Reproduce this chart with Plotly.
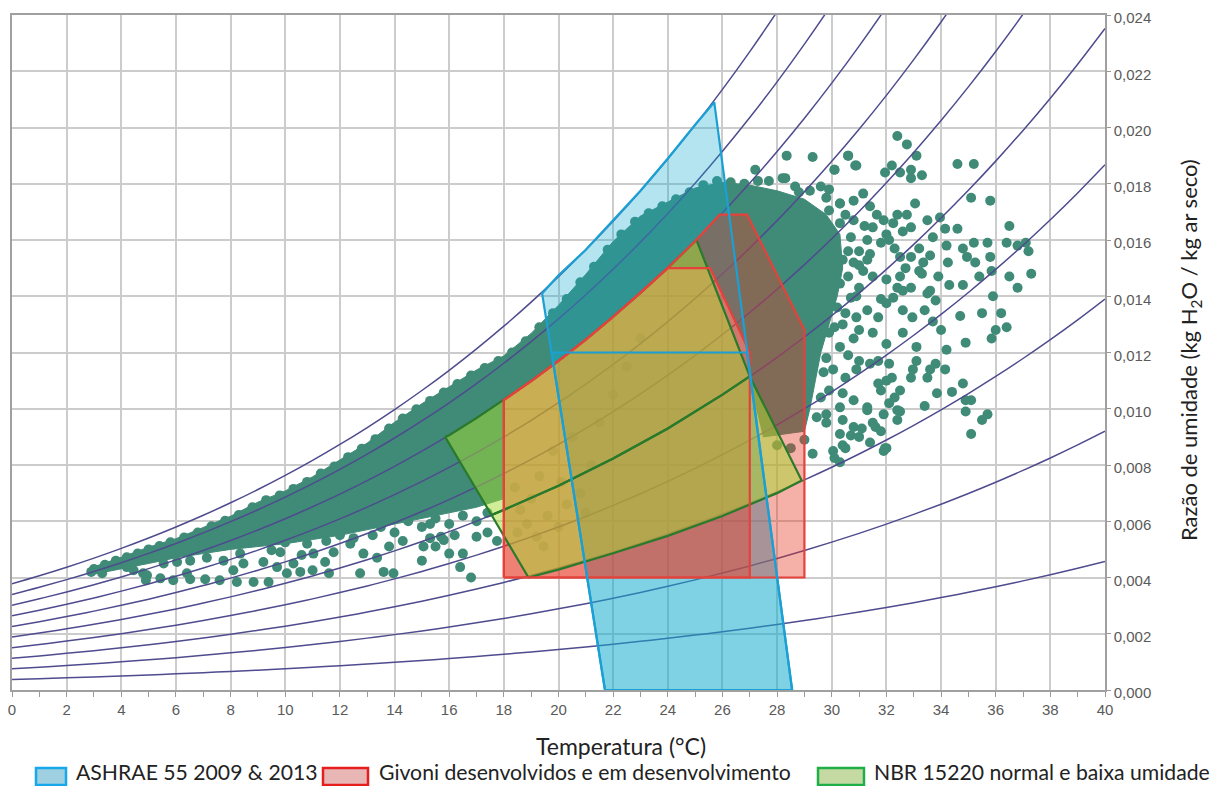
import plotly.graph_objects as go

# ---------------- data ----------------
# saturation vapour pressure of water (kPa) at 0..40 °C (psychrometric table)
PSAT_T = list(range(0, 41))
PSAT_KPA = [0.6113, 0.6571, 0.7060, 0.7580, 0.8135, 0.8725, 0.9353, 1.0020, 1.0729, 1.1481,
            1.2280, 1.3128, 1.4026, 1.4979, 1.5987, 1.7055, 1.8185, 1.9380, 2.0643, 2.1978,
            2.3389, 2.4878, 2.6448, 2.8105, 2.9852, 3.1693, 3.3633, 3.5674, 3.7823, 4.0084,
            4.2462, 4.4961, 4.7586, 5.0345, 5.3242, 5.6280, 5.9468, 6.2812, 6.6315, 6.9988, 7.3838]
RH_LEVELS = [10, 20, 30, 40, 50, 60, 70, 80, 90, 100]
P_ATM = 101.325

# comfort zones (T in °C, humidity ratio in g/kg)
ASHRAE_2009_T = [21.7, 28.55, 26.9, 19.75]
ASHRAE_2009_W = [0.0, 0.0, 12.0, 12.0]
ASHRAE_2013_T = [21.7, 28.55, 25.7, 25.0, 24.0, 23.0, 22.0, 21.0, 20.0, 19.4]
ASHRAE_2013_W = [0.0, 0.0, 20.9, 20.1, 18.9, 17.75, 16.7, 15.65, 14.75, 14.1]

GIVONI_OUT_T = [18, 29, 29, 26.9, 25.9, 25, 24, 23, 22, 21, 20, 19, 18]
GIVONI_OUT_W = [4.0, 4.0, 12.8, 16.9, 16.9, 15.96, 15.01, 14.12, 13.27, 12.46, 11.70, 10.98, 10.31]
GIVONI_IN_T = [18, 27, 27, 25.55, 24.0, 23, 22, 21, 20, 19, 18]
GIVONI_IN_W = [4.0, 4.0, 12.0, 15.0, 15.0, 14.12, 13.27, 12.46, 11.70, 10.98, 10.31]

NBR_NORMAL_T = [15.85, 16, 17, 18, 19, 20, 21, 22, 23, 24, 25, 25.05, 27.0, 26, 24, 22, 20, 18, 17.55]
NBR_NORMAL_W = [9.0, 9.06, 9.67, 10.31, 10.98, 11.70, 12.46, 13.27, 14.12, 15.01, 15.96, 16.0,
                11.15, 10.50, 9.30, 8.23, 7.26, 6.40, 6.22]
NBR_LOW_T = [17.55, 18, 20, 22, 24, 26, 27.0, 28.9, 28, 26, 24, 22, 20, 18.9]
NBR_LOW_W = [6.22, 6.40, 7.26, 8.23, 9.30, 10.50, 11.15, 7.45, 7.0, 6.19, 5.48, 4.86, 4.28, 4.0]

# envelope of the densely overlapping measured points (g/kg)
DENSE_UP_T = [2.8, 3, 4, 5, 6, 7, 8, 9, 10, 11, 12, 13, 14, 15, 16, 17, 18, 19, 20, 21, 22, 23,
              24, 25, 26, 27, 28, 29, 29.8, 30.3]
DENSE_UP_W = [4.3, 4.38, 4.72, 5.08, 5.38, 5.78, 6.18, 6.68, 7.08, 7.58, 8.18, 8.78, 9.52, 10.18,
              10.78, 11.38, 11.88, 12.68, 13.68, 14.78, 15.95, 16.85, 17.35, 17.85, 18.05, 17.95,
              17.75, 17.45, 16.9, 16.2]
DENSE_LO_T = [30.4, 30.2, 29.9, 29.6, 29.4, 29.2, 29.0, 27.5, 27.0, 27.0, 25.55, 24.0, 23, 22, 21,
              20, 19, 18, 18, 17, 16, 15, 14, 13, 12, 11, 10, 9, 8, 7, 6, 5, 4, 2.9]
DENSE_LO_W = [15.0, 14.0, 13.0, 12.0, 11.0, 10.0, 9.2, 9.0, 11.0, 12.0, 15.0, 15.0, 14.1, 13.3,
              12.5, 11.7, 11.0, 10.3, 6.8, 6.5, 6.3, 6.1, 5.9, 5.7, 5.5, 5.35, 5.2, 5.1, 5.0, 4.85,
              4.7, 4.5, 4.3, 4.1]

# individual measured points (T °C, w g/kg)
BAND_EDGE_PTS = [(3.0, 4.3), (3.4, 4.45), (3.8, 4.6), (4.2, 4.72), (4.6, 4.85), (5.0, 5.0), (5.4, 5.12),
                 (5.8, 5.25), (6.3, 5.42), (6.8, 5.6), (7.3, 5.82), (7.8, 6.02), (8.3, 6.22), (8.8, 6.5),
                 (9.3, 6.75), (9.8, 6.92), (10.3, 7.15), (10.8, 7.4), (11.3, 7.7), (11.8, 7.95),
                 (12.3, 8.28), (12.8, 8.58), (13.3, 8.92), (13.8, 9.3), (14.3, 9.65), (14.8, 9.98),
                 (15.3, 10.28), (15.8, 10.58), (16.3, 10.88), (16.8, 11.18), (17.3, 11.45), (17.8, 11.7),
                 (18.3, 12.0), (18.8, 12.4), (19.3, 12.9), (19.8, 13.4), (20.3, 13.9), (20.8, 14.5),
                 (21.3, 15.05), (21.8, 15.65), (22.3, 16.2), (22.8, 16.65), (23.3, 16.95), (23.8, 17.2),
                 (24.3, 17.45), (24.8, 17.7), (25.3, 17.95), (25.8, 18.1), (26.3, 18.05), (26.8, 18.0),
                 (27.3, 18.1), (27.7, 18.1), (28.3, 18.2), (28.8, 17.7), (29.3, 18.95), (29.2, 17.75),
                 (29.6, 17.9), (29.9, 17.8), (30.3, 17.3), (30.1, 18.5), (30.6, 19.0), (30.86, 18.65),
                 (28.35, 19.0), (27.2, 18.5), (28.2, 18.2), (28.66, 17.9)]
BAND_LOW_PTS = [(2.9, 4.2), (3.3, 4.15), (4.2, 4.37), (4.45, 4.26), (4.8, 4.15), (4.94, 4.08), (4.9, 3.9),
                (5.43, 3.97), (5.55, 4.5), (5.9, 3.9), (6.04, 4.55), (6.4, 4.15), (6.52, 3.94), (6.52, 4.6),
                (7.07, 3.94), (7.13, 4.7), (7.6, 3.9), (7.74, 4.6), (8.1, 4.26), (8.23, 3.84), (8.35, 4.85),
                (8.47, 4.5), (8.84, 3.84), (9.2, 4.55), (9.39, 3.84), (9.5, 4.97), (9.7, 4.37), (9.82, 4.9),
                (10.06, 4.15), (10.3, 4.5), (10.55, 4.2), (10.6, 4.8), (11.0, 4.26), (11.03, 4.85),
                (11.46, 4.55), (11.6, 4.15), (11.77, 4.9), (12.38, 5.2), (12.74, 4.15), (12.86, 4.85),
                (13.36, 4.7), (13.6, 4.2), (13.96, 4.15), (15.0, 4.6), (15.06, 5.1), (15.8, 5.33),
                (14.5, 6.0), (15.0, 5.8), (15.5, 6.1), (16.0, 5.9), (16.5, 6.2), (17.0, 6.0), (17.4, 6.3),
                (14.0, 5.6), (13.2, 5.5), (12.5, 5.4), (16.2, 5.5), (15.3, 5.4), (17.0, 5.45), (17.4, 5.6),
                (17.75, 5.3), (16.5, 4.85), (16.4, 4.37), (16.8, 4.0), (15.7, 5.45), (16.0, 4.85),
                (15.5, 5.1), (15.3, 5.9), (14.3, 5.3), (13.8, 5.1), (11.5, 5.3), (10.8, 5.2), (10.0, 5.25),
                (12.0, 5.5), (13.5, 5.8)]
UNDER_ZONE_PTS = [(18.5, 5.6), (18.85, 5.9), (19.2, 5.45), (19.45, 5.1), (18.6, 6.4), (19.0, 6.8),
                  (19.6, 6.2), (20.0, 5.8), (20.3, 6.6), (18.4, 7.2), (19.3, 7.6), (20.1, 7.4), (20.8, 7.0),
                  (21.2, 8.0), (21.0, 6.3), (19.8, 8.5), (20.5, 9.0), (21.5, 9.5), (22.0, 10.5),
                  (22.5, 11.5), (23.0, 12.5)]
CLOUD_PTS = [(32.4, 19.7), (32.75, 19.4), (33.1, 19.0), (30.6, 19.0), (30.9, 18.65), (30.1, 18.5),
             (32.2, 18.65), (31.95, 18.4), (32.5, 18.4), (32.9, 18.5), (33.3, 18.3), (32.9, 18.2),
             (34.6, 18.7), (35.2, 18.7), (35.1, 17.5), (35.8, 17.4), (33.05, 17.3), (36.5, 16.5),
             (37.2, 15.6), (37.1, 15.9), (36.8, 15.8), (36.4, 15.9), (36.5, 14.7), (36.8, 14.3),
             (37.3, 14.8), (35.7, 15.9), (35.2, 15.9), (34.8, 15.7), (34.95, 15.4), (35.25, 15.2),
             (35.8, 15.4), (35.85, 14.9), (35.4, 14.7), (34.8, 14.4), (34.3, 14.4), (33.9, 14.7),
             (34.6, 16.4), (33.96, 16.8), (33.5, 16.7), (33.7, 16.1), (34.15, 16.4), (34.2, 15.8),
             (34.25, 15.2), (35.9, 14.0), (34.7, 13.3), (35.5, 13.4), (36.2, 13.4), (36.4, 12.9),
             (36.0, 12.8), (35.85, 12.5), (34.9, 12.35), (34.0, 12.8), (33.7, 13.1), (33.4, 13.5),
             (32.95, 13.25), (32.6, 13.5), (32.6, 12.7), (33.1, 12.2), (34.2, 12.1), (34.15, 11.4),
             (33.6, 11.4), (33.8, 11.6), (33.1, 11.7), (32.9, 11.1), (32.2, 11.1), (32.1, 11.6),
             (33.85, 10.55), (34.4, 10.6), (34.8, 10.9), (34.9, 10.3), (35.1, 10.3), (34.9, 9.9),
             (35.7, 9.8), (35.5, 9.6), (35.1, 9.1), (33.4, 10.1), (32.5, 10.65), (32.3, 10.4),
             (32.4, 9.95), (31.8, 10.65), (31.7, 10.9), (31.9, 9.8), (31.8, 9.2), (32.4, 9.6),
             (31.4, 8.8), (32.0, 8.6), (31.5, 9.5), (31.3, 10.05), (30.9, 11.4), (31.0, 11.7),
             (31.4, 11.6), (31.7, 11.7), (30.4, 13.0), (31.0, 12.8), (31.5, 12.7), (32.0, 12.3),
             (31.7, 13.25), (32.0, 13.75), (31.8, 13.9), (32.6, 14.2), (32.5, 14.7), (32.9, 14.3),
             (33.3, 14.8), (33.6, 14.2), (33.8, 13.85), (33.5, 14.1), (32.9, 15.4), (32.5, 15.4),
             (32.3, 15.7), (32.7, 15.0), (33.2, 14.9), (33.2, 15.7), (33.6, 15.45), (33.35, 15.2),
             (32.4, 16.9), (32.75, 16.9), (32.25, 16.6), (32.9, 16.45), (32.6, 16.3), (31.9, 16.7),
             (32.0, 16.2), (32.1, 16.0), (31.15, 17.65), (30.8, 17.4), (31.4, 17.2), (31.65, 16.9),
             (31.5, 16.45), (31.3, 16.0), (31.8, 15.9), (31.4, 15.5), (31.0, 15.6), (30.7, 16.1),
             (30.3, 16.6), (29.9, 17.05), (29.8, 17.5), (30.3, 17.3), (30.5, 16.9), (30.05, 15.9),
             (30.4, 15.3), (30.8, 15.2), (31.15, 14.9), (31.5, 14.7), (32.0, 14.6), (32.4, 14.3),
             (32.25, 13.95), (31.0, 14.3), (30.7, 13.95), (30.3, 14.45), (29.9, 14.8), (29.8, 14.2),
             (29.8, 13.5), (30.2, 13.6), (30.9, 13.25), (31.3, 13.5), (30.8, 12.5), (30.3, 12.2),
             (29.9, 12.7), (29.8, 11.8), (30.05, 11.4), (30.5, 11.1), (29.9, 10.65), (30.4, 10.55),
             (30.8, 10.3), (30.3, 10.05), (29.8, 9.8), (30.4, 9.6), (30.8, 9.35), (30.3, 9.1),
             (31.0, 9.0), (30.5, 8.6), (30.05, 8.5), (31.9, 8.5), (31.95, 8.6), (31.6, 9.35),
             (31.1, 9.3), (30.7, 9.05), (30.4, 8.7), (30.1, 8.25), (29.3, 8.4), (29.45, 9.7),
             (29.8, 9.5), (31.3, 9.95), (32.1, 10.2), (32.5, 9.9), (32.0, 11.0), (32.97, 11.4),
             (33.5, 11.1), (30.3, 8.1), (28.5, 8.6), (28.0, 8.7), (29.0, 8.9),
             (30.6, 14.7), (30.9, 14.0), (30.5, 13.4), (31.2, 16.5), (30.8, 16.7), (31.0, 15.1),
             (30.6, 15.6), (30.2, 15.0), (30.0, 16.3), (31.3, 15.3), (29.6, 16.6), (29.9, 16.0),
             (30.1, 12.9), (29.7, 11.3), (30.6, 11.9), (29.6, 10.4)]

X_TICKS = list(range(0, 41, 2))
Y_TICKS = [0.000, 0.002, 0.004, 0.006, 0.008, 0.010, 0.012, 0.014, 0.016, 0.018, 0.020, 0.022, 0.024]

LEGEND_NAMES = ["ASHRAE 55 2009 & 2013", "Givoni desenvolvidos e em desenvolvimento",
                "NBR 15220 normal e baixa umidade"]

# ---------------- styles ----------------
DOT = "#3f8b77"
RH_LINE = "#4e4b8e"
BLUE_FILL = "rgba(20,170,205,0.32)"
BLUE_EDGE = "#1c9fd4"
RED_FILL = "rgba(230,57,37,0.40)"
RED_EDGE = "#e4423b"
GREEN_FILL = "rgba(165,220,50,0.50)"
GREEN_EDGE = "#2a7a2c"

# page has an 8px body margin; figure sized to fit the 1230x794 window
OFF = 8
FIG_W, FIG_H = 1230 - 2 * OFF, 794 - 2 * OFF
M_L, M_T = 12 - OFF, 15 - OFF
M_R = FIG_W - (1105 - OFF)
M_B = FIG_H - (690 - OFF)
PLOT_W = FIG_W - M_L - M_R
PLOT_H = FIG_H - M_T - M_B


def px_x(page_px):
    return (page_px - OFF - M_L) / PLOT_W


def px_y(page_py):
    return (FIG_H - M_B - (page_py - OFF)) / PLOT_H


def kg(vals):
    return [v / 1000.0 for v in vals]


def closed(t, w):
    return list(t) + [t[0]], kg(list(w) + [w[0]])


fig = go.Figure()

# dense envelope of overlapping points
env_t = DENSE_UP_T + DENSE_LO_T
env_w = DENSE_UP_W + DENSE_LO_W
et, ew = closed(env_t, env_w)
fig.add_trace(go.Scatter(x=et, y=ew, mode="lines", fill="toself", fillcolor=DOT,
                         line=dict(color=DOT, width=1), hoverinfo="skip", showlegend=False))

# individual points
vis_pts = BAND_EDGE_PTS + BAND_LOW_PTS + CLOUD_PTS
fig.add_trace(go.Scatter(x=[p[0] for p in vis_pts], y=kg([p[1] for p in vis_pts]), mode="markers",
                         marker=dict(size=10, color=DOT, line=dict(width=0)),
                         showlegend=False, hoverinfo="skip"))
fig.add_trace(go.Scatter(x=[p[0] for p in UNDER_ZONE_PTS], y=kg([p[1] for p in UNDER_ZONE_PTS]),
                         mode="markers", opacity=0.35,
                         marker=dict(size=10, color=DOT, line=dict(width=0)),
                         showlegend=False, hoverinfo="skip"))

# relative humidity curves
for rh in RH_LEVELS:
    phi = rh / 100.0
    w = [0.622 * phi * p / (P_ATM - phi * p) for p in PSAT_KPA]
    fig.add_trace(go.Scatter(x=PSAT_T, y=w, mode="lines", line=dict(color=RH_LINE, width=1.5, shape="spline"),
                             showlegend=False, hoverinfo="skip"))

# zone fills
zones = [
    (ASHRAE_2009_T, ASHRAE_2009_W, BLUE_FILL),
    (ASHRAE_2013_T, ASHRAE_2013_W, BLUE_FILL),
    (GIVONI_OUT_T, GIVONI_OUT_W, RED_FILL),
    (GIVONI_IN_T, GIVONI_IN_W, RED_FILL),
    (NBR_NORMAL_T, NBR_NORMAL_W, GREEN_FILL),
    (NBR_LOW_T, NBR_LOW_W, GREEN_FILL),
]
for t, w, fc in zones:
    ct, cw = closed(t, w)
    fig.add_trace(go.Scatter(x=ct, y=cw, mode="lines", fill="toself", fillcolor=fc,
                             line=dict(width=0), showlegend=False, hoverinfo="skip"))

# zone edges (green, red, blue on top)
edges = [
    (NBR_NORMAL_T, NBR_NORMAL_W, GREEN_EDGE),
    (NBR_LOW_T, NBR_LOW_W, GREEN_EDGE),
    (GIVONI_OUT_T, GIVONI_OUT_W, RED_EDGE),
    (GIVONI_IN_T, GIVONI_IN_W, RED_EDGE),
    (ASHRAE_2009_T, ASHRAE_2009_W, BLUE_EDGE),
    (ASHRAE_2013_T, ASHRAE_2013_W, BLUE_EDGE),
]
for t, w, lc in edges:
    ct, cw = closed(t, w)
    fig.add_trace(go.Scatter(x=ct, y=cw, mode="lines", line=dict(color=lc, width=2.2),
                             showlegend=False, hoverinfo="skip"))

# manual legend (filled swatches + labels)
leg_styles = [("#9fd0e2", "#16a8ea"), ("#e9b6b6", "#e81e1e"), ("#c5d9a2", "#1fae48")]
leg_swatch_px = [(36, 66), (323, 368), (818, 864)]
leg_text_px = [75, 378, 873]
shapes = []
annotations = []
for name, (fc, lc), (s0, s1), tx in zip(LEGEND_NAMES, leg_styles, leg_swatch_px, leg_text_px):
    shapes.append(dict(type="rect", xref="paper", yref="paper", x0=px_x(s0), x1=px_x(s1),
                       y0=px_y(785), y1=px_y(768), fillcolor=fc, line=dict(color=lc, width=2.5)))
    annotations.append(dict(text=name, xref="paper", yref="paper", x=px_x(tx), y=px_y(786),
                            xanchor="left", yanchor="bottom", showarrow=False, borderpad=0,
                            font=dict(family="Lato, sans-serif", size=21.2, color="#222")))

annotations += [
    dict(text="Temperatura (°C)", xref="paper", yref="paper", x=px_x(621), y=px_y(746),
         xanchor="center", yanchor="middle", showarrow=False,
         font=dict(family="Lato, sans-serif", size=23, color="#222")),
    dict(text="Razão de umidade (kg H<sub>2</sub>O / kg ar seco)", xref="paper", yref="paper",
         x=px_x(1190), y=px_y(350), xanchor="center", yanchor="middle", textangle=-90, showarrow=False,
         font=dict(family="Lato, sans-serif", size=22, color="#222")),
]

TICKFONT = dict(family="Liberation Sans, Arial, sans-serif", size=15, color="#5a5a5a")
fig.update_layout(
    width=FIG_W, height=FIG_H,
    margin=dict(l=M_L, r=M_R, t=M_T, b=M_B, autoexpand=False),
    paper_bgcolor="white", plot_bgcolor="white",
    separators=",.",
    showlegend=False,
    xaxis=dict(range=[0, 40], tickvals=X_TICKS, ticktext=[str(v) for v in X_TICKS], automargin=False,
               ticklabeloverflow="allow",
               showgrid=True, gridcolor="#cccccc", gridwidth=1.5, zeroline=False,
               showline=True, linecolor="#a0a0a0", linewidth=1.5, mirror=True,
               ticks="outside", ticklen=5, tickcolor="#999",
               minor=dict(dtick=1, tick0=0, ticks="outside", ticklen=5, tickcolor="#999", showgrid=False),
               tickfont=TICKFONT),
    yaxis=dict(range=[0, 0.024], tickvals=Y_TICKS, tickformat=".3f", side="right", automargin=False,
               ticklabeloverflow="allow", ticklabelshift=3,
               showgrid=True, gridcolor="#cccccc", gridwidth=1.5, zeroline=False,
               showline=True, linecolor="#a0a0a0", linewidth=1.5, mirror=True,
               ticks="outside", ticklen=4, tickcolor="#999", tickfont=TICKFONT),
    shapes=shapes,
    annotations=annotations,
)

fig.write_html("out.html")
